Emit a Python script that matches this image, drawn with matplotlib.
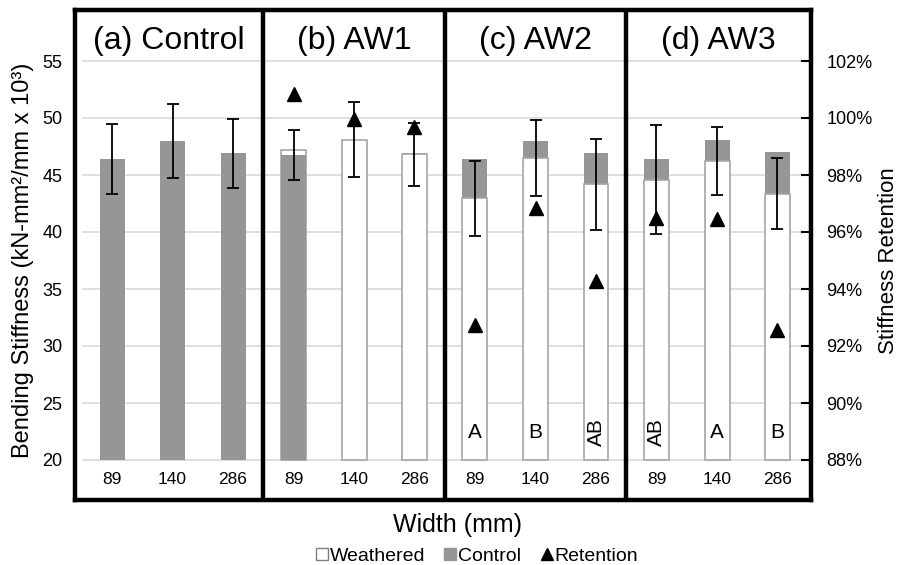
import matplotlib
matplotlib.use("Agg")
import matplotlib.pyplot as plt
from matplotlib.lines import Line2D
import numpy as np

plt.rcParams['font.family'] = ['Liberation Sans', 'DejaVu Sans']

# ---------------- data ----------------
widths = ['89', '140', '286']
panel_titles = ['(a) Control', '(b) AW1', '(c) AW2', '(d) AW3']

control_a = [46.4, 48.0, 46.9]
sd_a = [3.1, 3.25, 3.05]

control_b = [46.75, 48.0, 46.9]
weathered_b = [47.2, 48.1, 46.8]
sd_b = [2.2, 3.3, 2.8]
retention_b = [100.85, 99.97, 99.68]

control_c = [46.4, 48.0, 46.9]
weathered_c = [42.95, 46.5, 44.2]
sd_c = [3.3, 3.3, 4.0]
retention_c = [92.74, 96.83, 94.29]
letters_c = ['A', 'B', 'AB']

control_d = [46.4, 48.05, 47.0]
weathered_d = [44.6, 46.25, 43.35]
sd_d = [4.8, 3.0, 3.1]
retention_d = [96.48, 96.44, 92.56]
letters_d = ['AB', 'A', 'B']

yticks_left = [20, 25, 30, 35, 40, 45, 50, 55]
yticks_right = [88, 90, 92, 94, 96, 98, 100, 102]

# ---------------- figure ----------------
W, H = 903, 565
fig = plt.figure(figsize=(W / 100, H / 100), dpi=100)

px_left, px_right, px_top, px_bot = 75, 811, 10, 500
ax = fig.add_axes([px_left / W, 1 - px_bot / H, (px_right - px_left) / W, (px_bot - px_top) / H])

ppu_y = 57 / 5.0       # pixels per stiffness unit
y20 = 460              # pixel row of 20
ylo = 20 - (px_bot - y20) / ppu_y
yhi = 20 + (y20 - px_top) / ppu_y
ppc = 60.5             # pixels per category
x0 = 112
xlo = (px_left - x0) / ppc
xhi = (px_right - x0) / ppc
ax.set_xlim(xlo, xhi)
ax.set_ylim(ylo, yhi)

GRAY = '#969696'
EDGE = '#a6a6a6'
GRID = '#d9d9d9'
bw = 25 / ppc

# grid lines
for v in yticks_left:
    ax.plot([-0.5, 11.5], [v, v], color=GRID, lw=1.2, zorder=1, solid_capstyle='butt')

panels = [
    (control_a, None, sd_a, None, None),
    (control_b, weathered_b, sd_b, retention_b, None),
    (control_c, weathered_c, sd_c, retention_c, letters_c),
    (control_d, weathered_d, sd_d, retention_d, letters_d),
]

ax2 = ax.twinx()
ax2.set_ylim(88 + (ylo - 20) * 0.4, 88 + (yhi - 20) * 0.4)

for p, (ctrl, wth, sd, ret, letters) in enumerate(panels):
    xs = np.arange(3) + 3 * p
    for i, x in enumerate(xs):
        if wth is None:
            ax.bar(x, ctrl[i] - 20, bottom=20, width=bw, color=GRAY, zorder=2)
            center = ctrl[i]
        else:
            control_front = (p == 1 and i == 0)
            if control_front:
                ax.bar(x, wth[i] - 20, bottom=20, width=bw, facecolor='white',
                       edgecolor=EDGE, lw=1.2, zorder=2)
                ax.bar(x, ctrl[i] - 20, bottom=20, width=bw, color=GRAY, zorder=3)
                center = ctrl[i]
            else:
                ax.bar(x, ctrl[i] - 20, bottom=20, width=bw, color=GRAY, zorder=2)
                ax.bar(x, wth[i] - 20, bottom=20, width=bw, facecolor='white',
                       edgecolor=EDGE, lw=1.2, zorder=3)
                center = wth[i]
        ax.errorbar(x, center, yerr=sd[i], fmt='none', ecolor='black', elinewidth=1.3,
                    capsize=4, capthick=1.3, zorder=5)
        ax.text(x, 18.25, widths[i], ha='center', va='center', fontsize=12.5)
        if letters is not None:
            rot = 90 if len(letters[i]) > 1 else 0
            ax.text(x, 22.45, letters[i], ha='center', va='center', fontsize=15,
                    rotation=rot, zorder=6)
    if ret is not None:
        ax2.plot(xs, ret, linestyle='none', marker='^', color='black', markersize=10.5, zorder=6)

# panel dividers and titles
bounds = [xlo, 2.5, 5.5, 8.5, xhi]
for b in bounds[1:-1]:
    ax.axvline(b, color='black', lw=3.2, zorder=7)
for p, t in enumerate(panel_titles):
    ax.text((bounds[p] + bounds[p + 1]) / 2, 56.05, t, ha='center', va='baseline', fontsize=23)

for s in ax.spines.values():
    s.set_linewidth(3.2)
    s.set_zorder(8)
for s in ax2.spines.values():
    s.set_visible(False)

ax.set_xticks([])
ax.set_yticks(yticks_left)
ax.set_yticklabels([str(v) for v in yticks_left])
ax.tick_params(axis='y', length=0, pad=9, labelsize=13)

ax2.set_yticks(yticks_right)
ax2.set_yticklabels([f'{v}%' for v in yticks_right])
ax2.tick_params(axis='y', direction='in', length=7, width=1.5, pad=11, labelsize=13)

ax.set_zorder(1)
ax2.set_zorder(2)
ax2.patch.set_visible(False)

# axis labels
fig.text(23 / W, 1 - 260 / H, 'Bending Stiffness (kN-mm²/mm x 10³)', rotation=90,
         ha='center', va='center', fontsize=17)
fig.text(889 / W, 1 - 261 / H, 'Stiffness Retention', rotation=90,
         ha='center', va='center', fontsize=16)
fig.text(458 / W, 1 - 532 / H, 'Width (mm)', ha='center', va='baseline', fontsize=18)

handles = [
    Line2D([], [], linestyle='none', marker='s', markersize=8, markerfacecolor='white',
           markeredgecolor='#7f7f7f', markeredgewidth=1),
    Line2D([], [], linestyle='none', marker='s', markersize=8, markerfacecolor=GRAY,
           markeredgecolor=GRAY),
    Line2D([], [], linestyle='none', marker='^', markersize=9, color='black'),
]
fig.legend(handles, ['Weathered', 'Control', 'Retention'], loc='center',
           bbox_to_anchor=(477 / W, 1 - 556 / H), ncol=3, frameon=False, fontsize=14,
           handlelength=0.6, handletextpad=0.1, columnspacing=1.0, borderpad=0)

fig.savefig('out.png', dpi=100)
